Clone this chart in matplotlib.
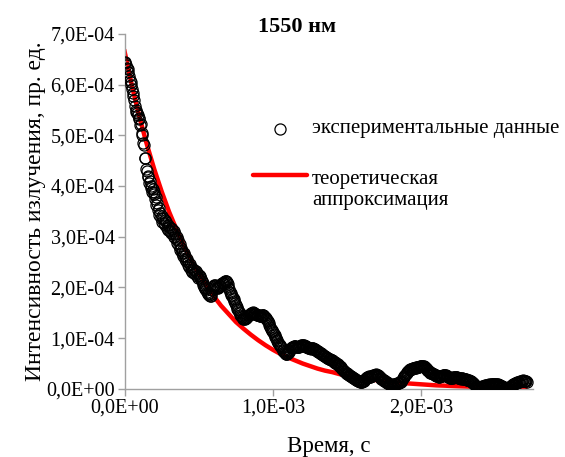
import numpy as np
import matplotlib
matplotlib.use("Agg")
import matplotlib.pyplot as plt
from matplotlib.lines import Line2D
from matplotlib.ticker import FuncFormatter, MultipleLocator

# ── Data ─────────────────────────────────────────────────────
# experimental points, intensity in units of 1E-04
# exp_vals  -> t = 0.000, 0.010, 0.020 ... ms
# exp_mid   -> t = 0.005, 0.015, 0.025 ... ms
t_step_ms = 0.01
exp_vals = [
    6.42, 6.38, 6.30, 6.16, 6.05, 5.92, 5.78, 5.58, 5.46, 5.40,   # 0.0 ms
    5.33, 5.22, 5.04, 4.80, 4.55, 4.30, 4.20, 4.10, 4.00, 3.95,   # 0.1
    3.88, 3.78, 3.66, 3.56, 3.46, 3.40, 3.36, 3.32, 3.30, 3.24,   # 0.2
    3.20, 3.18, 3.15, 3.12, 3.06, 3.00, 2.94, 2.86, 2.78, 2.72,   # 0.3
    2.68, 2.62, 2.56, 2.50, 2.46, 2.40, 2.36, 2.34, 2.32, 2.28,   # 0.4
    2.25, 2.20, 2.12, 2.04, 1.98, 1.94, 1.90, 1.86, 1.84, 1.94,   # 0.5
    2.02, 2.04, 2.00, 1.98, 2.02, 2.06, 2.08, 2.10, 2.12, 2.10,   # 0.6
    2.00, 1.92, 1.86, 1.80, 1.74, 1.66, 1.58, 1.52, 1.46, 1.42,   # 0.7
    1.38, 1.38, 1.40, 1.44, 1.46, 1.48, 1.50, 1.50, 1.48, 1.46,   # 0.8
    1.46, 1.44, 1.44, 1.46, 1.44, 1.40, 1.36, 1.30, 1.22, 1.16,   # 0.9
    1.12, 1.06, 1.00, 0.94, 0.88, 0.84, 0.80, 0.74, 0.70, 0.68,   # 1.0
    0.70, 0.74, 0.80, 0.82, 0.84, 0.84, 0.82, 0.82, 0.84, 0.86,   # 1.1
    0.86, 0.86, 0.84, 0.82, 0.80, 0.80, 0.80, 0.80, 0.78, 0.76,   # 1.2
    0.74, 0.72, 0.70, 0.68, 0.66, 0.64, 0.62, 0.60, 0.58, 0.57,   # 1.3
    0.56, 0.54, 0.52, 0.50, 0.48, 0.45, 0.42, 0.38, 0.35, 0.32,   # 1.4
    0.30, 0.28, 0.26, 0.24, 0.22, 0.20, 0.18, 0.16, 0.15, 0.14,   # 1.5
    0.14, 0.16, 0.20, 0.22, 0.24, 0.24, 0.25, 0.26, 0.28, 0.28,   # 1.6
    0.28, 0.26, 0.24, 0.20, 0.18, 0.16, 0.14, 0.12, 0.10, 0.09,   # 1.7
    0.08, 0.08, 0.09, 0.10, 0.11, 0.12, 0.14, 0.18, 0.24, 0.28,   # 1.8
    0.32, 0.35, 0.38, 0.40, 0.41, 0.42, 0.42, 0.43, 0.44, 0.45,   # 1.9
    0.46, 0.45, 0.44, 0.42, 0.38, 0.35, 0.32, 0.31, 0.30, 0.28,   # 2.0
    0.26, 0.25, 0.24, 0.25, 0.26, 0.27, 0.28, 0.26, 0.24, 0.22,   # 2.1
    0.22, 0.22, 0.23, 0.24, 0.23, 0.22, 0.21, 0.21, 0.20, 0.20,   # 2.2
    0.19, 0.18, 0.17, 0.16, 0.14, 0.11, 0.08, 0.05, 0.03, 0.02,   # 2.3
    0.03, 0.05, 0.06, 0.07, 0.08, 0.08, 0.08, 0.09, 0.10, 0.10,   # 2.4
    0.09, 0.09, 0.08, 0.07, 0.05, 0.03, 0.02, 0.01, 0.02, 0.03,   # 2.5
    0.05, 0.07, 0.09, 0.11, 0.12, 0.13, 0.14, 0.15, 0.16, 0.16,   # 2.6
    0.15, 0.14,                                                   # 2.7
]
exp_mid = [
    6.44, 6.33, 6.25, 6.08, 6.00, 5.83, 5.70, 5.50, 5.44, 5.35,   # 0.005 ms
    5.20, 5.00, 4.84, 4.56, 4.34, 4.18, 4.06, 3.97, 3.88, 3.84,   # 0.105
    3.74, 3.63, 3.53, 3.43, 3.36, 3.30, 3.27, 3.24, 3.18, 3.14,   # 0.205
    3.12, 3.08, 3.05, 3.00, 2.95, 2.88, 2.81, 2.74, 2.67, 2.62,   # 0.305
    2.57, 2.52, 2.45, 2.40, 2.35, 2.30, 2.28, 2.26, 2.23, 2.19,   # 0.405
    2.22, 2.16, 2.08, 2.00, 1.96, 1.92, 1.88, 1.84, 1.88, 1.98,   # 0.505
    2.04, 2.02, 1.98, 2.00, 2.04, 2.08, 2.09, 2.12, 2.12, 2.06,   # 0.605
    1.96, 1.89, 1.83, 1.77, 1.70, 1.62, 1.55, 1.49, 1.44, 1.40,   # 0.705
    1.37, 1.39, 1.42, 1.45, 1.47, 1.50, 1.51, 1.49, 1.47, 1.45,   # 0.805
    1.45, 1.43, 1.45, 1.45, 1.42, 1.38, 1.33, 1.26, 1.19, 1.14,   # 0.905
    1.09, 1.03, 0.97, 0.91, 0.86, 0.82, 0.77, 0.72, 0.69, 0.69,   # 1.005
    0.72, 0.77, 0.81, 0.83, 0.85, 0.83, 0.82, 0.83, 0.85, 0.87,   # 1.105
    0.85, 0.85, 0.83, 0.81, 0.80, 0.79, 0.81, 0.79, 0.77, 0.75,   # 1.205
    0.73, 0.71, 0.69, 0.67, 0.65, 0.63, 0.61, 0.59, 0.58, 0.56,   # 1.305
    0.55, 0.53, 0.51, 0.49, 0.46, 0.43, 0.40, 0.36, 0.33, 0.31,   # 1.405
    0.29, 0.27, 0.25, 0.23, 0.21, 0.19, 0.17, 0.15, 0.14, 0.13,   # 1.505
    0.15, 0.18, 0.21, 0.23, 0.25, 0.24, 0.26, 0.27, 0.28, 0.29,   # 1.605
    0.27, 0.25, 0.22, 0.19, 0.17, 0.15, 0.13, 0.11, 0.09, 0.08,   # 1.705
    0.07, 0.09, 0.09, 0.11, 0.11, 0.13, 0.16, 0.21, 0.26, 0.30,   # 1.805
    0.34, 0.37, 0.39, 0.40, 0.42, 0.41, 0.43, 0.44, 0.44, 0.46,   # 1.905
    0.45, 0.45, 0.43, 0.40, 0.36, 0.33, 0.32, 0.30, 0.29, 0.27,   # 2.005
    0.25, 0.24, 0.25, 0.25, 0.27, 0.27, 0.27, 0.25, 0.23, 0.22,   # 2.105
    0.21, 0.23, 0.23, 0.24, 0.22, 0.22, 0.20, 0.21, 0.19, 0.20,   # 2.205
    0.18, 0.18, 0.16, 0.15, 0.12, 0.09, 0.06, 0.04, 0.02, 0.03,   # 2.305
    0.04, 0.06, 0.06, 0.08, 0.07, 0.09, 0.08, 0.10, 0.09, 0.10,   # 2.405
    0.08, 0.09, 0.07, 0.06, 0.04, 0.03, 0.01, 0.02, 0.02, 0.04,   # 2.505
    0.06, 0.08, 0.10, 0.11, 0.13, 0.13, 0.15, 0.15, 0.17, 0.15,   # 2.605
    0.15,                                                         # 2.705
]

# theoretical approximation, sampled every 0.05 ms, units of 1E-04
fit_t_ms = [0.00, 0.05, 0.10, 0.15, 0.20, 0.25, 0.30, 0.35, 0.40, 0.45,
            0.50, 0.55, 0.60, 0.65, 0.70, 0.75, 0.80, 0.85, 0.90, 0.95,
            1.00, 1.05, 1.10, 1.15, 1.20, 1.25, 1.30, 1.35, 1.40, 1.45,
            1.50, 1.55, 1.60, 1.65, 1.70, 1.75, 1.80, 1.85, 1.90, 1.95,
            2.00, 2.05, 2.10, 2.15, 2.20, 2.25, 2.30, 2.35, 2.40, 2.45,
            2.50, 2.55, 2.60, 2.65, 2.70]
fit_vals = [6.65, 5.97, 5.36, 4.82, 4.33, 3.89, 3.49, 3.14, 2.82, 2.53,
            2.27, 2.04, 1.83, 1.64, 1.48, 1.32, 1.19, 1.07, 0.96, 0.86,
            0.77, 0.69, 0.62, 0.56, 0.50, 0.45, 0.40, 0.36, 0.33, 0.29,
            0.26, 0.24, 0.21, 0.19, 0.17, 0.15, 0.14, 0.12, 0.11, 0.10,
            0.09, 0.08, 0.07, 0.065, 0.058, 0.052, 0.047, 0.042, 0.038, 0.034,
            0.030, 0.027, 0.024, 0.022, 0.020]

title = "1550 нм"
x_label = "Время, с"
y_label = "Интенсивность излучения, пр. ед."
label_exp = "экспериментальные данные"
label_fit = "теоретическая\nаппроксимация"

# ── Plot ──────────────────────────────────────────────────────
plt.rcParams['font.family'] = ['Liberation Serif', 'DejaVu Serif']

t_a = t_step_ms * np.arange(len(exp_vals))
t_b = t_step_ms * np.arange(len(exp_mid)) + t_step_ms / 2
t_exp = np.concatenate([t_a, t_b]) * 1e-3
y_exp = np.array(exp_vals + exp_mid) * 1e-4
t_fit = np.array(fit_t_ms) * 1e-3
y_fit = np.array(fit_vals) * 1e-4

fig = plt.figure(figsize=(5.65, 4.57), dpi=100)
ax = fig.add_axes([0.2205, 0.149, 0.7225, 0.777])

ax.plot(t_fit, y_fit, color='#ff0000', lw=3.2, zorder=2)
marker_style = dict(linestyle='none', marker='o', markersize=8,
                    markerfacecolor='none', markeredgecolor='black',
                    markeredgewidth=0.9)
ax.plot(t_exp, y_exp, zorder=3, **marker_style)

ax.set_xlim(0, 2.75e-3)
ax.set_ylim(0, 7e-4)
ax.xaxis.set_major_locator(MultipleLocator(1e-3))
ax.yaxis.set_major_locator(MultipleLocator(1e-4))

fmt = FuncFormatter(lambda v, pos: f"{v:.1E}".replace('.', ','))
ax.xaxis.set_major_formatter(fmt)
ax.yaxis.set_major_formatter(fmt)

for side in ['top', 'right']:
    ax.spines[side].set_visible(False)
for side in ['left', 'bottom']:
    ax.spines[side].set_color('#a0a0a0')
    ax.spines[side].set_linewidth(1.0)
ax.tick_params(axis='both', direction='out', length=5, width=1.0,
               color='#a0a0a0', labelsize=14.5, pad=2)

ax.set_xlabel(x_label, fontsize=16.5, labelpad=13)
ax.set_ylabel(y_label, fontsize=17, labelpad=0)
fig.text(0.526, 0.94, title, fontsize=16, fontweight='bold',
         ha='center', va='center')

# legend drawn by hand (figure fraction coords), as in the original
W, H = 565.0, 457.0
fig.add_artist(Line2D([280 / W], [1 - 129 / H], transform=fig.transFigure,
                      **marker_style))
fig.text(312 / W, 1 - 129 / H, label_exp, fontsize=15, ha='left', va='center')
fig.add_artist(Line2D([253 / W, 307 / W], [1 - 175 / H, 1 - 175 / H],
                      transform=fig.transFigure, color='#ff0000', lw=3.2,
                      solid_capstyle='round'))
fig.text(312 / W, 1 - 190 / H, label_fit, fontsize=15, ha='left', va='center',
         linespacing=1.1)

fig.savefig("out.png", dpi=100)
